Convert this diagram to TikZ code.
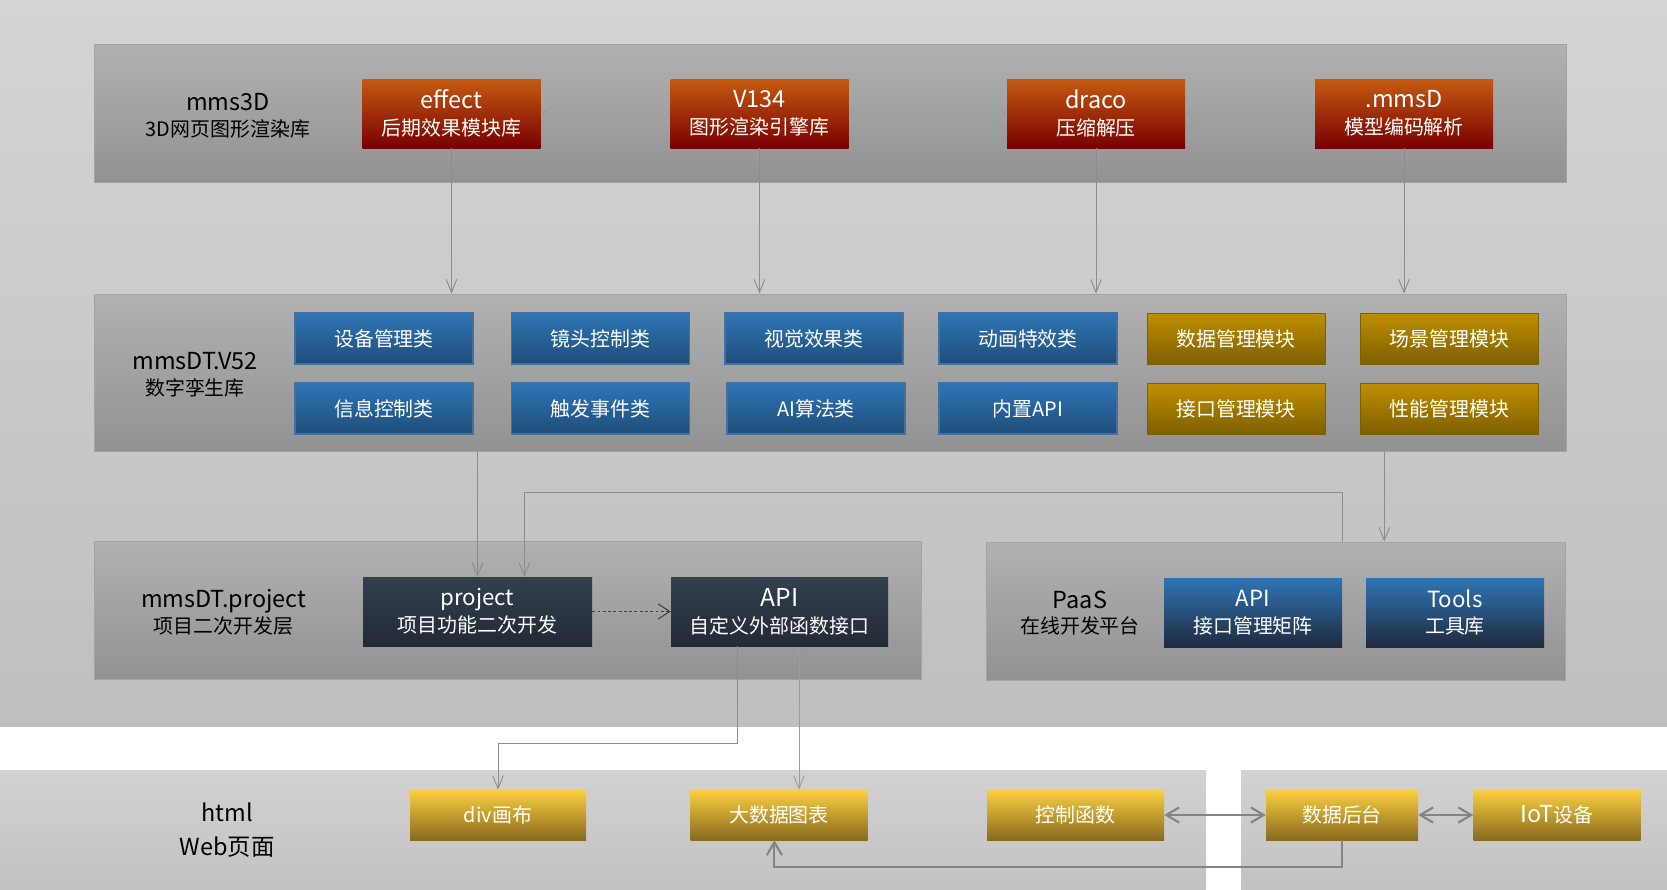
\documentclass[tikz,border=0pt]{standalone}
\usepackage{fontspec}
\setmainfont{Noto Sans CJK SC}
\usetikzlibrary{arrows.meta,calc}
\definecolor{bgT}{HTML}{D4D4D4}
\definecolor{bgB}{HTML}{BFBFBF}
\definecolor{bg2T}{HTML}{D2D2D2}
\definecolor{bg2B}{HTML}{C2C2C2}
\definecolor{panT}{HTML}{B1B1B1}
\definecolor{panB}{HTML}{929292}
\definecolor{panD}{HTML}{A3A3A3}
\definecolor{orT}{HTML}{C55A11}
\definecolor{orB}{HTML}{780000}
\definecolor{blT}{HTML}{2E75B6}
\definecolor{blB}{HTML}{1F4E79}
\definecolor{blD}{HTML}{41719C}
\definecolor{nvB}{HTML}{1F2A3D}
\definecolor{slT}{HTML}{333F50}
\definecolor{slB}{HTML}{222A35}
\definecolor{gdT}{HTML}{BF8F00}
\definecolor{gdB}{HTML}{7F6000}
\definecolor{ywT}{HTML}{FBCF40}
\definecolor{ywB}{HTML}{8A6A1E}
\definecolor{lnG}{HTML}{8C8C8C}
\definecolor{lnL}{HTML}{9C9C9C}
\definecolor{lnD}{HTML}{404040}
\definecolor{lnT}{HTML}{848484}
\begin{document}
\begin{tikzpicture}[x=0.03cm,y=-0.03cm,
  sz/.style 2 args={minimum width=#1*0.03cm, minimum height=#2*0.03cm},
  panel/.style={draw=panD, line width=0.8pt, top color=panT, bottom color=panB, inner sep=0pt},
  lbl/.style={align=center, text=black, inner sep=0pt, font=\fontsize{17}{22}\selectfont},
  box/.style={inner sep=0pt, align=center, text=white, font=\fontsize{17}{23}\selectfont},
  orbox/.style={box, top color=orT, bottom color=orB, sz={178}{69}},
  blbox/.style={box, draw=blD, line width=1pt, top color=blT, bottom color=blB, sz={178}{51}},
  gdbox/.style={box, draw=gdB, line width=0.8pt, top color=gdT, bottom color=gdB, sz={178}{51}},
  slbox/.style={box, top color=slT, bottom color=slB},
  nvbox/.style={box, top color=blT, bottom color=nvB, sz={178}{69}},
  ywbox/.style={box, top color=ywT, bottom color=ywB, sz={177}{50}},
  dasharrow/.style={draw=lnL, line width=0.8pt, dash pattern=on 3pt off 2.5pt,
    -{Straight Barb[length=10pt,width=14pt]}},
  varrow/.style={draw=lnG, line width=0.8pt, -{Straight Barb[length=11pt,width=9pt]}},
  vdarrow/.style={draw=lnL, line width=0.8pt, {Straight Barb[length=11pt,width=9pt]}-{Straight Barb[length=11pt,width=9pt]}},
  pdarrow/.style={draw=lnD, line width=0.9pt, dash pattern=on 2.5pt off 2pt,
    -{Straight Barb[length=10pt,width=13pt]}},
  tarrow/.style={draw=lnT, line width=1.8pt, -{Straight Barb[length=11pt,width=13pt]}},
  tdarrow/.style={draw=lnT, line width=1.8pt, {Straight Barb[length=11pt,width=13pt]}-{Straight Barb[length=11pt,width=13pt]}}
]
\useasboundingbox (0,0) rectangle (1667,889);
\fill[white] (0,0) rectangle (1667,889);
\shade[top color=bgT, bottom color=bgB] (0,0) rectangle (1667,726);
\shade[top color=bg2T, bottom color=bg2B] (0,770) rectangle (1206,889);
\shade[top color=bg2T, bottom color=bg2B] (1241,770) rectangle (1667,889);

% ---- layer 1 ----
\node[panel, sz={1472}{138}] (P1) at (830,113) {};
\node[lbl] (L1) at (228,116) {{\fontsize{20}{22}\selectfont mms3D}\\3D网页图形渲染库};
\node[orbox] (effect) at (451.5,113.5) {{\fontsize{20}{23}\selectfont effect}\\后期效果模块库};
\node[orbox] (v134) at (759.5,113.5) {{\fontsize{20}{23}\selectfont V134}\\图形渲染引擎库};
\node[orbox] (draco) at (1096,113.5) {{\fontsize{20}{23}\selectfont draco}\\压缩解压};
\node[orbox] (mmsd) at (1404,113.5) {{\fontsize{20}{23}\selectfont .mmsD}\\模型编码解析};

% ---- layer 2 ----
\node[panel, sz={1472}{157}] (P2) at (830,372.5) {};
\node[lbl] (L2) at (195,375) {{\fontsize{20}{22}\selectfont mmsDT.V52}\\数字孪生库};
\node[blbox] (b11) at (384,338.5) {设备管理类};
\node[blbox] (b12) at (600.5,338.5) {镜头控制类};
\node[blbox] (b13) at (814,338.5) {视觉效果类};
\node[blbox] (b14) at (1028,338.5) {动画特效类};
\node[gdbox] (b15) at (1236,338.5) {数据管理模块};
\node[gdbox] (b16) at (1449.5,338.5) {场景管理模块};
\node[blbox] (b21) at (384,408.5) {信息控制类};
\node[blbox] (b22) at (600.5,408.5) {触发事件类};
\node[blbox] (b23) at (816,408.5) {AI算法类};
\node[blbox] (b24) at (1028,408.5) {内置API};
\node[gdbox] (b25) at (1236,408.5) {接口管理模块};
\node[gdbox] (b26) at (1449.5,408.5) {性能管理模块};

% ---- layer 3 ----
\node[panel, sz={827}{138}] (P3) at (508,610) {};
\node[lbl] (L3) at (223.6,612) {{\fontsize{20}{22}\selectfont mmsDT.project}\\项目二次开发层};
\node[slbox, sz={229}{69}] (project) at (477.5,611.5) {{\fontsize{19}{23}\selectfont project}\\项目功能二次开发};
\node[slbox, sz={217}{69}] (api) at (779.5,611.5) {{\fontsize{21}{23}\selectfont API}\\自定义外部函数接口};
\node[panel, sz={579}{138}] (P4) at (1276,611) {};
\node[lbl] (L4) at (1080,613) {{\fontsize{20}{22}\selectfont PaaS}\\在线开发平台};
\node[nvbox] (api2) at (1253,612.5) {{\fontsize{19}{23}\selectfont API}\\接口管理矩阵};
\node[nvbox] (tools) at (1455,612.5) {{\fontsize{19}{23}\selectfont Tools}\\工具库};

% ---- bottom ----
\node[lbl, font=\fontsize{20}{29}\selectfont] (L5) at (227,830) {html\\Web页面};
\node[ywbox, sz={176}{50}] (div) at (498,815) {div画布};
\node[ywbox] (bigdata) at (779,815) {大数据图表};
\node[ywbox] (ctrl) at (1075.5,815) {控制函数};
\node[ywbox, sz={152}{50}] (backend) at (1342,815) {数据后台};
\node[ywbox, sz={167}{50}] (iot) at (1557,815) {{\fontsize{20}{23}\selectfont IoT}设备};

% ---- connectors ----
\draw[dasharrow] (v134.west) -- (effect.east);
\draw[dasharrow] (v134.east) -- (draco.west);
\draw[dasharrow] (mmsd.west) -- (draco.east);
\draw[varrow] (effect.south) -- (effect.south |- P2.north);
\draw[varrow] (v134.south) -- (v134.south |- P2.north);
\draw[varrow] (draco.south) -- (draco.south |- P2.north);
\draw[varrow] (mmsd.south) -- (mmsd.south |- P2.north);

\draw[varrow] (project.north |- P2.south) -- (project.north);
\coordinate (k1) at (524.4,492.3);
\draw[varrow] (api2.east |- P4.north) |- (k1) -- (k1 |- project.north);
\coordinate (k2) at (1384.3,0);
\draw[varrow] (k2 |- P2.south) -- (k2 |- P4.north);
\draw[pdarrow] (project.east) -- (api.west);

\coordinate (k3) at (737,743.3);
\draw[varrow] (k3 |- api.south) -- (k3) -| (div.north);
\coordinate (k4) at (799,0);
\draw[vdarrow] (k4 |- bigdata.north) -- ($(k4 |- api.south)+(0,3)$);
\coordinate (k5) at (774.4,867.3);
\draw[tarrow] (backend.south) |- (k5) -- (k5 |- bigdata.south);
\draw[tdarrow] (ctrl.east) -- (backend.west);
\draw[tdarrow] (backend.east) -- (iot.west);
\end{tikzpicture}
\end{document}
